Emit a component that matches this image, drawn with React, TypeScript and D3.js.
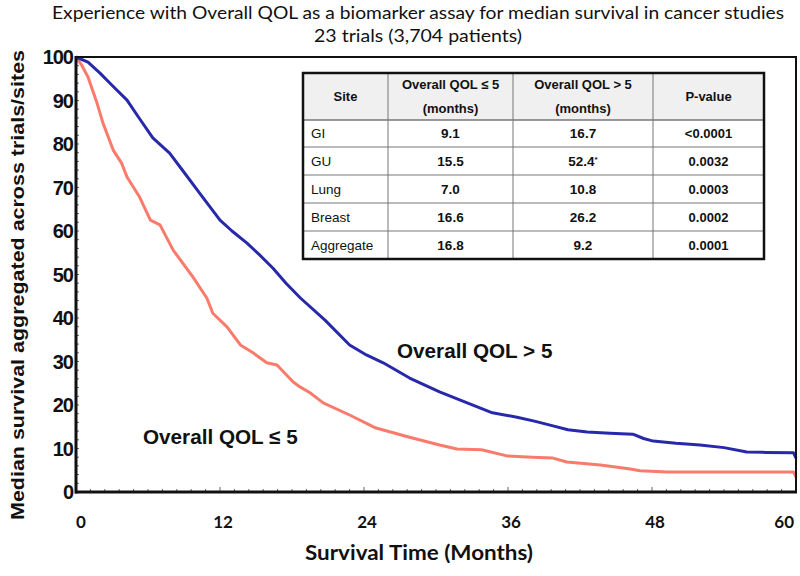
import React from "react";
import * as d3 from "d3";

const titleLines = [
  "Experience with Overall QOL as a biomarker assay for median survival in cancer studies",
  "23 trials (3,704 patients)",
];
const yAxisTitle = "Median survival aggregated across trials/sites";
const xAxisTitle = "Survival Time (Months)";

const xTicks = [0, 12, 24, 36, 48, 60];
const yTicks = [0, 10, 20, 30, 40, 50, 60, 70, 80, 90, 100];

// QOL > 5 (blue)
const highMonths = [0, 1, 2, 3, 4.25, 5.3, 6.4, 7.8, 9, 10.3, 12, 13, 14.25, 15.3, 16.4, 17.5, 18.7, 20.75, 22.8, 24.2, 25.6, 27.8, 30.3, 32.6, 34.7, 36.75, 38.2, 39.75, 41, 42.6, 44.5, 46.4, 47.3, 48.1, 50, 52, 54, 55.9, 57.5, 59.8, 60];
const highSurv = [100, 98.8, 96.3, 93.5, 90.1, 85.8, 81.4, 77.9, 73.5, 68.7, 62.5, 60, 57.2, 54.5, 51.5, 48, 44.6, 39.5, 33.8, 31.5, 29.7, 26.2, 23, 20.5, 18.2, 17.2, 16.3, 15.2, 14.3, 13.8, 13.5, 13.3, 12.3, 11.7, 11.2, 10.8, 10.2, 9.2, 9.1, 9.0, 7.8];

// QOL <= 5 (salmon)
const lowMonths = [0, 0.5, 1, 1.75, 2.25, 3.1, 3.8, 4.25, 5.3, 6.2, 7, 8.1, 9.75, 10.9, 11.4, 12.6, 13.7, 14.75, 15.9, 16.75, 18.1, 18.7, 19.5, 20.6, 22.8, 25, 27.8, 30.3, 31.75, 33.8, 35.9, 38, 39.75, 40.9, 43.7, 46.2, 47, 49.25, 59.8, 60];
const lowSurv = [100, 98, 95.4, 89.4, 84.8, 78.6, 75.6, 72.4, 67.8, 62.5, 61.4, 55.6, 49.4, 44.6, 41.1, 37.9, 33.8, 32, 29.7, 29.2, 25.3, 24.1, 22.8, 20.5, 17.7, 14.7, 12.6, 10.8, 9.9, 9.7, 8.3, 8, 7.8, 6.9, 6.2, 5.3, 4.9, 4.6, 4.6, 3.4];

const seriesLabels = ["Overall QOL > 5", "Overall QOL \u2264 5"];

// Table
const tableHeaders = [["Site"], ["Overall QOL \u2264 5", "(months)"], ["Overall QOL > 5", "(months)"], ["P-value"]];
const tableSites = ["GI", "GU", "Lung", "Breast", "Aggregate"];
const tableLow = ["9.1", "15.5", "7.0", "16.6", "16.8"];
const tableHigh = ["16.7", "52.4", "10.8", "26.2", "9.2"];
const tableHighMark = ["", "*", "", "", ""];
const tableP = ["<0.0001", "0.0032", "0.0003", "0.0002", "0.0001"];

const W = 800;
const H = 576;
const plot = { left: 76, right: 796, top: 57, bottom: 492 };

export default function App() {
  const x = d3.scaleLinear().domain([0, 60]).range([plot.left, plot.right]);
  const y = d3.scaleLinear().domain([0, 100]).range([plot.bottom, plot.top]);
  const line = d3
    .line<[number, number]>()
    .x((d) => x(d[0]))
    .y((d) => y(d[1]));
  const highPts = highMonths.map((m, i) => [m, highSurv[i]] as [number, number]);
  const lowPts = lowMonths.map((m, i) => [m, lowSurv[i]] as [number, number]);

  const xMinor = d3.range(0, 60.01, 1.2);
  const yMinor = d3.range(0, 100.01, 2);

  // table geometry
  const colX = [303, 388, 513, 653, 764];
  const rowY = [73, 120, 147, 175, 203, 231, 259];
  const arial = "'Liberation Sans', Arial, sans-serif";

  return (
    <svg
      width={W}
      height={H}
      viewBox={`0 0 ${W} ${H}`}
      style={{ position: "absolute", left: 0, top: 0, background: "#fff" }}
    >
      <rect x={0} y={0} width={W} height={H} fill="#fff" />
      {/* Title */}
      <text x={418} y={19} textAnchor="middle" fontFamily="Lato, 'Open Sans', sans-serif" fontSize={18} fill="#111" textLength={732} lengthAdjust="spacingAndGlyphs">
        {titleLines[0]}
      </text>
      <text x={418} y={42} textAnchor="middle" fontFamily="Lato, 'Open Sans', sans-serif" fontSize={18} fill="#111" textLength={208} lengthAdjust="spacingAndGlyphs">
        {titleLines[1]}
      </text>

      {/* minor ticks */}
      {xMinor.map((m, i) => (
        <line key={"xm" + i} x1={x(m)} x2={x(m)} y1={plot.bottom} y2={plot.bottom - (i % 10 === 0 ? 5 : 3)} stroke="#666" strokeWidth={1} />
      ))}
      {yMinor.map((v, i) => (
        <line key={"ym" + i} x1={plot.left} x2={plot.left + 3} y1={y(v)} y2={y(v)} stroke="#666" strokeWidth={1} />
      ))}

      {/* curves */}
      <path d={line(lowPts) || ""} fill="none" stroke="#fa7b6b" strokeWidth={3} strokeLinejoin="round" />
      <path d={line(highPts) || ""} fill="none" stroke="#2828aa" strokeWidth={3} strokeLinejoin="round" />

      {/* frame */}
      <rect x={plot.left} y={plot.top} width={plot.right - plot.left} height={plot.bottom - plot.top} fill="none" stroke="#111" strokeWidth={2} />
      <line x1={plot.left} x2={plot.left} y1={plot.top - 1} y2={plot.bottom + 1.5} stroke="#111" strokeWidth={3} />
      <line x1={plot.left - 1} x2={plot.right + 1} y1={plot.bottom} y2={plot.bottom} stroke="#111" strokeWidth={3} />

      {/* y tick labels */}
      {yTicks.map((v) => (
        <text key={"yt" + v} x={plot.left - 3} y={y(v)} dy="0.36em" textAnchor="end" fontFamily={arial} fontWeight="bold" fontSize={20} letterSpacing={-1} fill="#111">
          {v}
        </text>
      ))}
      {/* x tick labels */}
      {xTicks.map((m, i) => (
        <text
          key={"xt" + m}
          x={i === xTicks.length - 1 ? x(m) - 2 : x(m) + (i === 0 ? 5 : 3)}
          y={528}
          textAnchor={i === xTicks.length - 1 ? "end" : "middle"}
          fontFamily="Lato, 'Open Sans', sans-serif"
          fontWeight="bold"
          fontSize={17}
          fill="#111"
        >
          {m}
        </text>
      ))}

      {/* axis titles */}
      <text transform={`translate(24, 285) rotate(-90)`} textAnchor="middle" fontFamily={arial} fontWeight="bold" fontSize={18} fill="#111" textLength={470} lengthAdjust="spacingAndGlyphs">
        {yAxisTitle}
      </text>
      <text x={419} y={560} textAnchor="middle" fontFamily="Lato, 'Open Sans', sans-serif" fontWeight="bold" fontSize={20} fill="#111" textLength={228} lengthAdjust="spacingAndGlyphs">
        {xAxisTitle}
      </text>

      {/* series labels */}
      <text x={397} y={358} fontFamily={arial} fontWeight="bold" fontSize={20.7} fill="#111">
        {seriesLabels[0]}
      </text>
      <text x={143} y={444} fontFamily={arial} fontWeight="bold" fontSize={20.7} fill="#111">
        {seriesLabels[1]}
      </text>

      {/* table */}
      <rect x={colX[0]} y={rowY[0]} width={colX[4] - colX[0]} height={rowY[1] - rowY[0]} fill="#f0f0f0" />
      {rowY.slice(1, -1).map((ry, i) => (
        <line key={"rl" + i} x1={colX[0]} x2={colX[4]} y1={ry} y2={ry} stroke="#777" strokeWidth={i === 0 ? 1.5 : 1} />
      ))}
      {colX.slice(1, -1).map((cx, i) => (
        <line key={"cl" + i} x1={cx} x2={cx} y1={rowY[0]} y2={rowY[rowY.length - 1]} stroke="#777" strokeWidth={1} />
      ))}
      <rect x={colX[0]} y={rowY[0]} width={colX[4] - colX[0]} height={rowY[rowY.length - 1] - rowY[0]} fill="none" stroke="#111" strokeWidth={2.5} />
      {tableHeaders.map((lines, ci) => {
        const cx = (colX[ci] + colX[ci + 1]) / 2;
        const cy = (rowY[0] + rowY[1]) / 2;
        return lines.map((t, li) => (
          <text
            key={"h" + ci + li}
            x={cx}
            y={cy + (li - (lines.length - 1) / 2) * 24}
            dy="0.36em"
            textAnchor="middle"
            fontFamily={arial}
            fontWeight="bold"
            fontSize={13}
            fill="#111"
          >
            {t}
          </text>
        ));
      })}
      {tableSites.map((s, ri) => {
        const cy = (rowY[ri + 1] + rowY[ri + 2]) / 2;
        const c = (k: number) => (colX[k] + colX[k + 1]) / 2;
        return (
          <g key={"r" + ri}>
            <text x={colX[0] + 8} y={cy} dy="0.36em" fontFamily={arial} fontSize={13.5} fill="#111">
              {s}
            </text>
            <text x={c(1)} y={cy} dy="0.36em" textAnchor="middle" fontFamily={arial} fontWeight="bold" fontSize={13.5} fill="#111">
              {tableLow[ri]}
            </text>
            <text x={c(2)} y={cy} dy="0.36em" textAnchor="middle" fontFamily={arial} fontWeight="bold" fontSize={13.5} fill="#111">
              {tableHigh[ri]}
              {tableHighMark[ri] ? (
                <tspan fontSize={8} dy="-0.5em">
                  {tableHighMark[ri]}
                </tspan>
              ) : null}
            </text>
            <text x={c(3)} y={cy} dy="0.36em" textAnchor="middle" fontFamily={arial} fontWeight="bold" fontSize={13} fill="#111">
              {tableP[ri]}
            </text>
          </g>
        );
      })}
    </svg>
  );
}
